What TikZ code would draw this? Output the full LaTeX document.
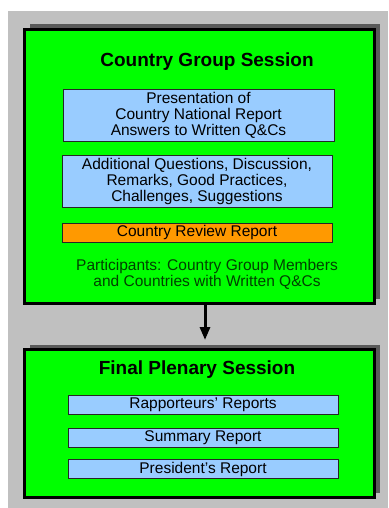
\documentclass[tikz,border=0pt]{standalone}
\usepackage{fontspec}
\setmainfont{Liberation Sans}
\usetikzlibrary{arrows.meta,shadows}

\definecolor{bggray}{HTML}{C0C0C0}
\definecolor{shadowgray}{HTML}{5A5A5A}
\definecolor{sessiongreen}{HTML}{00FF00}
\definecolor{itemblue}{HTML}{99CCFF}
\definecolor{reportorange}{HTML}{FF9900}
\definecolor{notegreen}{HTML}{004000}

\tikzset{
  session/.style={draw=black, line width=3pt, fill=sessiongreen, inner sep=0pt,
    drop shadow={shadow xshift=5pt, shadow yshift=5pt, fill=shadowgray, opacity=1}},
  title/.style={font=\fontsize{19}{22}\selectfont\bfseries},
  item/.style={draw=black!85, line width=0.8pt, fill=itemblue, inner sep=0pt,
    align=center, font=\fontsize{15.5}{16}\selectfont},
}

\begin{document}
\begin{tikzpicture}[x=1pt, y=-1pt]
        \useasboundingbox (0,0) rectangle (388,508);
        \fill[bggray] (8,11) rectangle (388,508);

        % country group session
        \node[session, minimum width=350pt, minimum height=274pt] (cgs) at (199.5,166.5) {};
        \node[title] (cgstitle) at (207,62) {Country Group Session};
        \node[item, minimum width=271pt, minimum height=52pt] (present) at (198.5,115)
            {Presentation of\\Country National Report\\Answers to Written Q\&Cs};
        \node[item, minimum width=270pt, minimum height=52pt] (discuss) at (197,181)
            {Additional Questions, Discussion,\\Remarks, Good Practices,\\Challenges, Suggestions};
        \node[item, fill=reportorange, minimum width=270pt, minimum height=19pt] (review) at (197,232.5)
            {Country Review Report};
        \node[align=center, text=notegreen, font=\fontsize{15.5}{16}\selectfont] (partic) at (207,274)
            {Participants: Country Group Members\\and Countries with Written Q\&Cs};

        % final plenary session
        \node[session, minimum width=350pt, minimum height=148pt] (fps) at (199.5,423.5) {};
        \node[title] (fpstitle) at (197,370) {Final Plenary Session};
        \node[item, minimum width=270pt, minimum height=19pt] (rappo) at (203,404.5) {Rapporteurs' Reports};
        \node[item, minimum width=270pt, minimum height=19pt] (summary) at (203,438) {Summary Report};
        \node[item, minimum width=270pt, minimum height=19pt] (pres) at (203,469) {President's Report};

        \draw[line width=3pt, -{Triangle[length=13pt, width=10pt]}, shorten >=8pt]
            (cgs.south -| 205,0) -- (fps.north -| 205,0);
    \end{tikzpicture}
\end{document}
